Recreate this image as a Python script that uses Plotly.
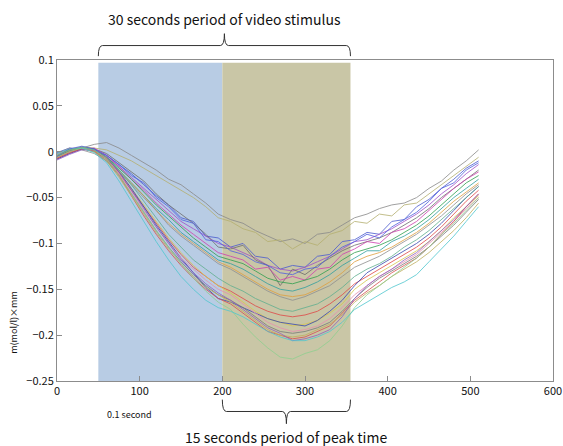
import plotly.graph_objects as go

# sample positions (0.1 s units)
x_samples = [0, 15, 30, 45, 60, 75, 90, 105, 120, 135, 150, 165, 180, 195, 210, 225, 240, 255,
             270, 285, 300, 315, 330, 345, 360, 375, 390, 405, 420, 435, 450, 465, 480, 495, 510]

s01 = [-0.002, 0.003, 0.004, 0.008, 0.010, 0.004, -0.004, -0.012, -0.020, -0.030, -0.036, -0.046, -0.056, -0.068, -0.074, -0.078, -0.086, -0.092,
       -0.098, -0.095, -0.100, -0.090, -0.088, -0.080, -0.072, -0.068, -0.062, -0.058, -0.056, -0.050, -0.040, -0.032, -0.020, -0.010, 0.002]
s02 = [-0.004, 0.002, 0.005, 0.004, 0.002, -0.004, -0.010, -0.018, -0.026, -0.034, -0.042, -0.050, -0.060, -0.072, -0.076, -0.084, -0.088, -0.098,
       -0.096, -0.106, -0.098, -0.102, -0.090, -0.086, -0.076, -0.078, -0.068, -0.070, -0.058, -0.056, -0.046, -0.036, -0.026, -0.016, -0.006]
s03 = [-0.001, 0.004, 0.003, 0.001, -0.004, -0.014, -0.024, -0.036, -0.048, -0.058, -0.072, -0.076, -0.092, -0.094, -0.104, -0.100, -0.114, -0.116,
       -0.128, -0.124, -0.126, -0.114, -0.112, -0.098, -0.096, -0.088, -0.090, -0.076, -0.074, -0.060, -0.052, -0.040, -0.030, -0.018, -0.010]
s04 = [-0.006, 0.000, 0.004, 0.002, -0.006, -0.016, -0.028, -0.040, -0.052, -0.064, -0.076, -0.084, -0.092, -0.100, -0.104, -0.110, -0.116, -0.124,
       -0.128, -0.130, -0.126, -0.120, -0.114, -0.106, -0.098, -0.096, -0.090, -0.084, -0.076, -0.068, -0.058, -0.046, -0.036, -0.024, -0.014]
s05 = [-0.004, 0.002, 0.005, 0.003, -0.002, -0.012, -0.022, -0.032, -0.046, -0.058, -0.068, -0.078, -0.090, -0.104, -0.106, -0.102, -0.118, -0.124,
       -0.146, -0.128, -0.134, -0.124, -0.116, -0.108, -0.102, -0.098, -0.094, -0.088, -0.080, -0.072, -0.062, -0.050, -0.040, -0.030, -0.020]
s06 = [-0.008, -0.002, 0.003, 0.004, -0.004, -0.016, -0.030, -0.042, -0.056, -0.068, -0.080, -0.090, -0.100, -0.110, -0.114, -0.118, -0.128, -0.126,
       -0.140, -0.136, -0.140, -0.128, -0.126, -0.112, -0.106, -0.098, -0.100, -0.088, -0.084, -0.076, -0.064, -0.052, -0.040, -0.030, -0.022]
s07 = [-0.005, 0.001, 0.004, 0.002, -0.006, -0.018, -0.030, -0.044, -0.058, -0.070, -0.082, -0.094, -0.104, -0.114, -0.118, -0.122, -0.130, -0.138,
       -0.142, -0.144, -0.140, -0.136, -0.128, -0.118, -0.110, -0.106, -0.102, -0.096, -0.088, -0.080, -0.070, -0.058, -0.046, -0.034, -0.026]
s08 = [-0.003, 0.003, 0.004, 0.000, -0.008, -0.020, -0.034, -0.048, -0.062, -0.074, -0.088, -0.098, -0.108, -0.118, -0.122, -0.128, -0.136, -0.144,
       -0.150, -0.152, -0.148, -0.142, -0.134, -0.124, -0.116, -0.108, -0.108, -0.098, -0.092, -0.084, -0.074, -0.062, -0.050, -0.040, -0.030]
s09 = [-0.007, -0.001, 0.003, 0.001, -0.007, -0.020, -0.034, -0.048, -0.064, -0.078, -0.090, -0.100, -0.110, -0.120, -0.126, -0.134, -0.142, -0.150,
       -0.156, -0.158, -0.156, -0.150, -0.142, -0.132, -0.120, -0.114, -0.110, -0.104, -0.096, -0.088, -0.078, -0.066, -0.054, -0.044, -0.034]
s10 = [-0.002, 0.004, 0.002, -0.002, -0.010, -0.022, -0.036, -0.050, -0.064, -0.080, -0.092, -0.102, -0.112, -0.122, -0.128, -0.136, -0.144, -0.152,
       -0.158, -0.162, -0.158, -0.152, -0.146, -0.136, -0.126, -0.120, -0.114, -0.106, -0.098, -0.090, -0.080, -0.070, -0.058, -0.046, -0.036]
s11 = [-0.006, 0.000, 0.004, 0.002, -0.008, -0.024, -0.042, -0.060, -0.078, -0.096, -0.112, -0.126, -0.136, -0.146, -0.152, -0.160, -0.168, -0.174,
       -0.178, -0.180, -0.178, -0.174, -0.166, -0.156, -0.144, -0.136, -0.128, -0.120, -0.112, -0.104, -0.094, -0.082, -0.068, -0.054, -0.042]
s12 = [-0.004, 0.002, 0.005, 0.002, -0.006, -0.022, -0.040, -0.058, -0.076, -0.094, -0.110, -0.124, -0.136, -0.146, -0.154, -0.164, -0.174, -0.182,
       -0.186, -0.190, -0.188, -0.184, -0.176, -0.166, -0.150, -0.140, -0.132, -0.124, -0.116, -0.108, -0.098, -0.086, -0.072, -0.060, -0.048]
s13 = [-0.008, -0.002, 0.003, 0.003, -0.006, -0.022, -0.040, -0.060, -0.080, -0.098, -0.116, -0.132, -0.148, -0.160, -0.164, -0.170, -0.176, -0.182,
       -0.186, -0.188, -0.190, -0.184, -0.174, -0.162, -0.146, -0.132, -0.124, -0.116, -0.108, -0.100, -0.090, -0.078, -0.064, -0.050, -0.038]
s14 = [-0.003, 0.003, 0.005, 0.001, -0.008, -0.024, -0.044, -0.064, -0.082, -0.100, -0.116, -0.128, -0.140, -0.150, -0.156, -0.166, -0.176, -0.186,
       -0.192, -0.196, -0.194, -0.190, -0.182, -0.170, -0.156, -0.146, -0.136, -0.128, -0.120, -0.112, -0.100, -0.088, -0.076, -0.062, -0.050]
s15 = [-0.005, 0.001, 0.004, 0.000, -0.010, -0.026, -0.046, -0.066, -0.086, -0.104, -0.120, -0.134, -0.146, -0.156, -0.162, -0.170, -0.180, -0.190,
       -0.196, -0.198, -0.196, -0.192, -0.186, -0.174, -0.160, -0.148, -0.138, -0.130, -0.122, -0.114, -0.104, -0.092, -0.080, -0.066, -0.052]
s16 = [-0.007, -0.001, 0.003, 0.001, -0.008, -0.026, -0.048, -0.070, -0.090, -0.108, -0.124, -0.138, -0.150, -0.160, -0.166, -0.176, -0.186, -0.196,
       -0.200, -0.204, -0.202, -0.196, -0.190, -0.176, -0.162, -0.152, -0.142, -0.132, -0.124, -0.116, -0.104, -0.090, -0.076, -0.060, -0.046]
s17 = [-0.004, 0.002, 0.004, 0.000, -0.010, -0.028, -0.048, -0.068, -0.088, -0.106, -0.122, -0.136, -0.148, -0.156, -0.164, -0.174, -0.184, -0.194,
       -0.200, -0.202, -0.200, -0.194, -0.188, -0.178, -0.164, -0.154, -0.146, -0.136, -0.128, -0.120, -0.110, -0.098, -0.086, -0.072, -0.056]
s18 = [-0.009, -0.003, 0.002, 0.002, -0.006, -0.022, -0.042, -0.062, -0.082, -0.100, -0.118, -0.132, -0.144, -0.154, -0.162, -0.172, -0.182, -0.192,
       -0.198, -0.206, -0.204, -0.200, -0.194, -0.180, -0.160, -0.146, -0.136, -0.128, -0.118, -0.110, -0.098, -0.086, -0.074, -0.060, -0.046]
s19 = [-0.006, 0.000, 0.004, 0.002, -0.008, -0.026, -0.046, -0.066, -0.086, -0.104, -0.122, -0.138, -0.152, -0.164, -0.172, -0.188, -0.202, -0.214,
       -0.224, -0.226, -0.220, -0.216, -0.206, -0.190, -0.170, -0.156, -0.146, -0.136, -0.126, -0.116, -0.104, -0.090, -0.078, -0.064, -0.050]
s20 = [-0.002, 0.003, 0.004, -0.001, -0.012, -0.032, -0.054, -0.076, -0.098, -0.118, -0.136, -0.150, -0.162, -0.170, -0.174, -0.180, -0.188, -0.196,
       -0.202, -0.206, -0.206, -0.202, -0.196, -0.186, -0.172, -0.164, -0.156, -0.148, -0.142, -0.134, -0.120, -0.106, -0.092, -0.076, -0.060]
s21 = [-0.005, 0.003, 0.006, 0.003, -0.004, -0.014, -0.026, -0.034, -0.050, -0.060, -0.074, -0.078, -0.096, -0.098, -0.108, -0.112, -0.120, -0.124,
       -0.132, -0.134, -0.128, -0.126, -0.114, -0.104, -0.098, -0.090, -0.094, -0.082, -0.074, -0.066, -0.054, -0.040, -0.034, -0.020, -0.012]
s22 = [-0.004, 0.002, 0.005, 0.002, -0.006, -0.020, -0.036, -0.054, -0.072, -0.090, -0.104, -0.118, -0.128, -0.138, -0.146, -0.152, -0.160, -0.166,
       -0.172, -0.174, -0.170, -0.166, -0.158, -0.148, -0.136, -0.128, -0.122, -0.114, -0.104, -0.096, -0.086, -0.074, -0.062, -0.050, -0.038]

series = [s01, s02, s03, s04, s05, s06, s07, s08, s09, s10, s11,
          s12, s13, s14, s15, s16, s17, s18, s19, s20, s21, s22]
colors = ["#8a8a8a", "#b5b070", "#4a5ad0", "#a050c8", "#6e6e6e", "#d040b0", "#30a050",
          "#30a0a0", "#e0a040", "#909090", "#e04848", "#d8c850", "#3848b0", "#e890b0",
          "#7a7a7a", "#d85050", "#c0b060", "#9060c0", "#90d090", "#50c8d0", "#5060e0", "#60b090"]

# periods (0.1 s units)
stim_start, peak_start, stim_end = 50, 200, 355
shade_top = 0.097
y_min, y_max = -0.25, 0.1

fig = go.Figure()
for s, c in zip(series, colors):
    fig.add_trace(go.Scatter(x=x_samples, y=s, mode="lines",
                             line=dict(color=c, width=1), opacity=0.8,
                             showlegend=False, hoverinfo="skip"))

fig.add_shape(type="rect", xref="x", yref="y", x0=stim_start, x1=peak_start,
              y0=y_min, y1=shade_top, fillcolor="#b8cce4", line_width=0, layer="below")
fig.add_shape(type="rect", xref="x", yref="y", x0=peak_start, x1=stim_end,
              y0=y_min, y1=shade_top, fillcolor="#c9c6a6", line_width=0, layer="below")


def brace(x0, x1, ytip, yh, ycusp, d=5):
    xc = (x0 + x1) / 2
    return (f"M {x0},{ytip} Q {x0},{yh} {x0 + d},{yh} L {xc - d},{yh} "
            f"Q {xc},{yh} {xc},{ycusp} Q {xc},{yh} {xc + d},{yh} "
            f"L {x1 - d},{yh} Q {x1},{yh} {x1},{ytip}")


fig.add_shape(type="path", xref="x", yref="paper",
              path=brace(stim_start, stim_end, 1.012, 1.045, 1.082),
              line=dict(color="#333333", width=1))
fig.add_shape(type="path", xref="x", yref="paper",
              path=brace(peak_start, stim_end, -0.058, -0.095, -0.133),
              line=dict(color="#333333", width=1))

font_main = "Noto Sans CJK JP"
fig.add_annotation(x=(stim_start + stim_end) / 2, y=1.128, xref="x", yref="paper",
                   xanchor="center", yanchor="middle",
                   text="30 seconds period of video stimulus", showarrow=False,
                   font=dict(family=font_main, size=14, color="#111111"))
fig.add_annotation(x=(peak_start + stim_end) / 2, y=-0.174, xref="x", yref="paper",
                   xanchor="center", yanchor="middle",
                   text="15 seconds period of peak time", showarrow=False,
                   font=dict(family=font_main, size=14, color="#111111"))
fig.add_annotation(x=88, y=-0.105, xref="x", yref="paper",
                   xanchor="center", yanchor="middle",
                   text="0.1 second", showarrow=False,
                   font=dict(family=font_main, size=9, color="#111111"))
fig.add_annotation(x=-0.087, y=0.184, xref="paper", yref="paper", textangle=-90,
                   xanchor="center", yanchor="middle",
                   text="m(mol/l)×mm", showarrow=False,
                   font=dict(family=font_main, size=9, color="#111111"))

axis_common = dict(showline=True, mirror=True, linecolor="#8c8c8c", linewidth=1,
                   ticks="inside", ticklen=5, tickcolor="#8c8c8c", showgrid=False,
                   zeroline=False, automargin=False,
                   tickfont=dict(family=font_main, size=11, color="#111111"))

fig.update_layout(
    width=563, height=446,
    margin=dict(l=57, r=10, t=60, b=65),
    paper_bgcolor="white", plot_bgcolor="white",
    xaxis=dict(range=[0, 600], dtick=100, tick0=0, **axis_common),
    yaxis=dict(range=[y_min, y_max], dtick=0.05, tick0=-0.25, **axis_common),
)

fig.write_html("out.html", config={"displayModeBar": False},
               post_script="document.body.style.margin='0';")
